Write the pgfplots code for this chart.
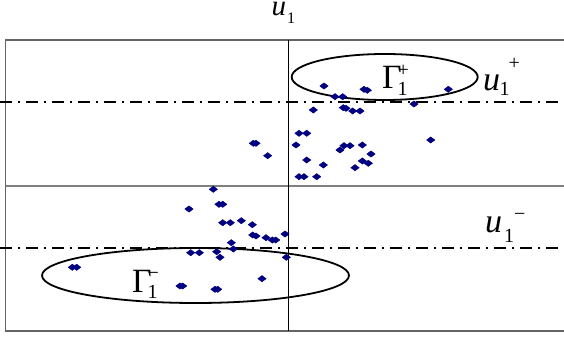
\documentclass[border=0pt]{standalone}
\usepackage{pgfplots}
\pgfplotsset{compat=1.18}
\usepackage{fontspec}
\setmainfont{Liberation Serif}
\definecolor{navy}{RGB}{0,0,128}
\definecolor{frame}{RGB}{100,100,100}
\newcommand{\bigf}{\fontsize{34bp}{34bp}\selectfont}
\newcommand{\smlf}{\fontsize{20bp}{20bp}\selectfont}
\pgfplotstableread{
x y
324 -86
335 -96.7
342.7 -96.7
364 -89.3
367.3 -90.3
448.3 -89.3
313.3 -110
343.3 -107.7
346 -108.3
352.7 -111
360 -111
414 -104
299 -133.3
306.7 -133.3
296 -145
430.7 -140
340 -150
344 -145.7
350 -145.7
362.3 -145
371 -154
306.7 -160
362.3 -161
368.3 -163.3
323.3 -165
355 -167.7
299 -176.7
304 -176.7
316.7 -176.7
253.3 -143.3
256 -143.3
267.7 -155.7
213.3 -189.3
189 -209
219 -204.3
222.7 -204.3
222.7 -222.7
230.3 -222.7
241.3 -220.7
252.3 -224.7
252.7 -235
256 -236
266 -237.7
272.3 -240
275.7 -240
285 -234
231.3 -242.7
233.3 -249
190.7 -252.7
199.3 -252.7
216.7 -251.7
220 -257.3
286.3 -257.3
262 -278.7
180 -286
182.7 -286
215 -289.3
217.7 -289.3
72.3 -267.3
76.7 -267.3
}\pts
\begin{document}
\begin{tikzpicture}
\begin{axis}[
  scale only axis, width=559bp, height=291bp,
  xmin=5, xmax=564, ymin=-331, ymax=-40,
  hide axis, clip=false]
\addplot[only marks, mark=diamond*, mark size=4.2bp,
  mark options={rotate=90, draw=navy, fill=navy}] table[x=x,y=y] {\pts};
% frame
\addplot[frame, line width=1.3bp, mark=none] coordinates {(564,-40) (5.5,-40) (5.5,-331) (564,-331)};
\addplot[gray, line width=1.2bp, mark=none] coordinates {(5.5,-186) (564,-186)};
\addplot[black, line width=0.9bp, mark=none] coordinates {(288,-40) (288,-331)};
% dash-dot lines
\addplot[black, line width=2.2bp, mark=none, dash pattern=on 12bp off 6bp on 2bp off 6bp] coordinates {(0,-101.7) (564,-101.7)};
\addplot[black, line width=2.2bp, mark=none, dash pattern=on 12bp off 6bp on 2bp off 6bp] coordinates {(0,-248) (564,-248)};
% ellipses
\draw[black, line width=1.8bp] (axis cs:384.7,-77) ellipse [x radius=93bp, y radius=23bp];
\draw[black, line width=1.8bp] (axis cs:195.5,-275.5) ellipse [x radius=153.5bp, y radius=27.5bp];
% labels
\node[anchor=base west, inner sep=0pt] at (axis cs:271.5,-16)
  {\fontsize{29bp}{29bp}\selectfont\itshape u\upshape\kern1bp\raisebox{-7.5bp}{\fontsize{16bp}{16bp}\selectfont 1}};
\node[anchor=base west, inner sep=0pt] at (axis cs:382,-89)
  {\bigf Γ\kern-4.2bp\rlap{\raisebox{-7bp}{\smlf 1}}\raisebox{12bp}{\smlf +}};
\node[anchor=base west, inner sep=0pt] at (axis cs:483,-91)
  {\bigf\itshape u\upshape\kern-0.5bp\raisebox{-5bp}{\smlf 1}\kern-1bp\raisebox{21bp}{\smlf +}};
\node[anchor=base west, inner sep=0pt] at (axis cs:485,-233)
  {\bigf\itshape u\upshape\kern2bp\raisebox{-10bp}{\smlf 1}\raisebox{12bp}{\smlf −}};
\node[anchor=base west, inner sep=0pt] at (axis cs:132,-293)
  {\bigf Γ\kern-4.2bp\rlap{\raisebox{-6bp}{\smlf 1}}\raisebox{13bp}{\smlf −}};
\coordinate (bbA) at (axis cs:0,0);
\coordinate (bbB) at (axis cs:564,-337);
\end{axis}
\pgfresetboundingbox
\path[use as bounding box] (bbA) rectangle (bbB);
\end{tikzpicture}
\end{document}
